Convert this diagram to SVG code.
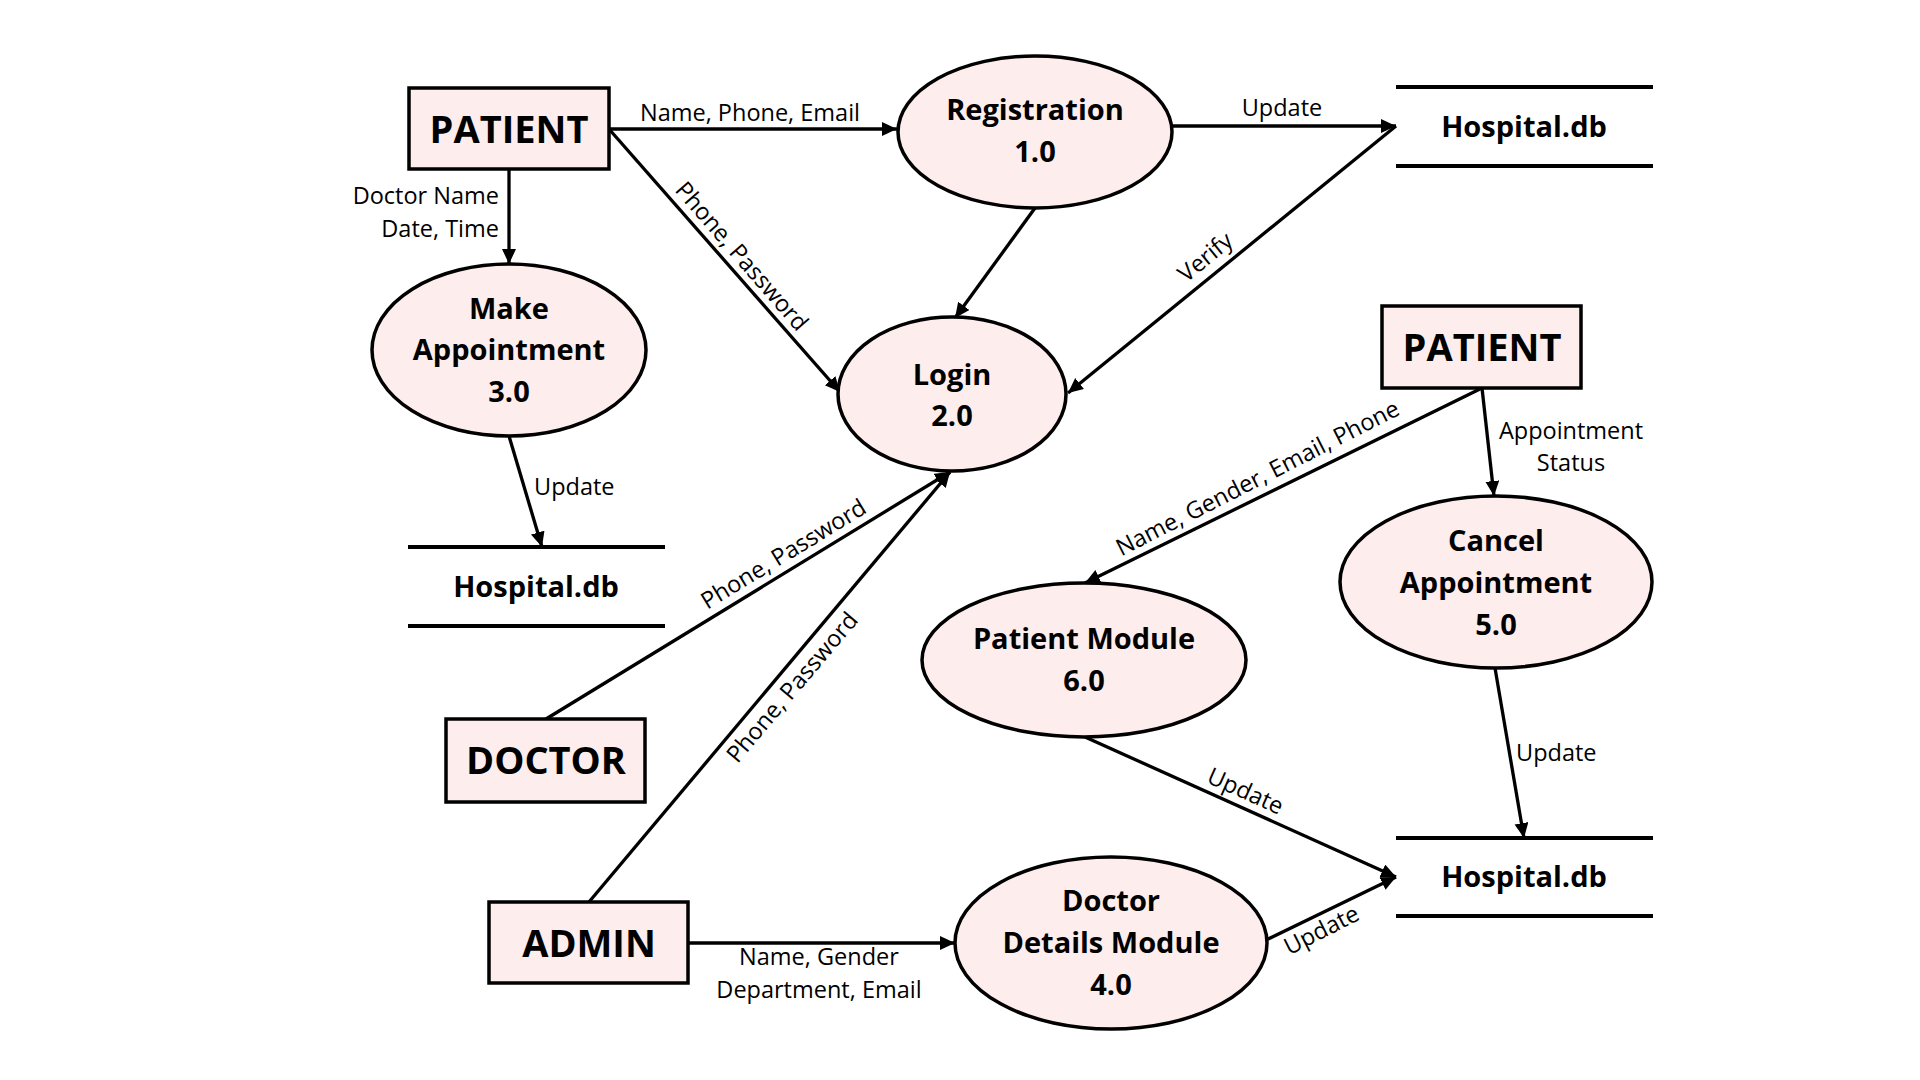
<svg xmlns="http://www.w3.org/2000/svg" width="1920" height="1080" viewBox="0 0 1920 1080">
<defs>
<marker id="arr" markerWidth="18" markerHeight="16" refX="15" refY="7" orient="auto" markerUnits="userSpaceOnUse">
<path d="M0,0 L15,7 L0,14 z" fill="#000"/>
</marker>
<style>
.node{fill:#fdeded;stroke:#000;stroke-width:3.5}
.store{stroke:#000;stroke-width:4}
.t{font-family:"Open Sans","Liberation Sans",sans-serif;font-weight:bold;font-size:29px;text-anchor:middle;fill:#000}
.tb{font-family:"Open Sans","Liberation Sans",sans-serif;font-weight:bold;font-size:38px;text-anchor:middle;fill:#000}
.lbl{font-family:"Open Sans","Liberation Sans",sans-serif;font-size:23.5px;fill:#000}
.c{text-anchor:middle}
.e{text-anchor:end}
.ln{stroke:#000;stroke-width:3.3;fill:none}
.a{marker-end:url(#arr)}
</style>
</defs>
<rect width="1920" height="1080" fill="#fff"/>

<g id="connectors">
<line class="ln a" x1="609" y1="129" x2="897" y2="129"/>
<line class="ln a" x1="609" y1="129" x2="840" y2="392"/>
<line class="ln a" x1="509" y1="169" x2="509" y2="264"/>
<line class="ln a" x1="1172" y1="126" x2="1396" y2="126"/>
<line class="ln a" x1="1396" y1="126" x2="1068" y2="393"/>
<line class="ln a" x1="1035" y1="208" x2="955" y2="318"/>
<line class="ln a" x1="509" y1="436" x2="542" y2="547"/>
<line class="ln a" x1="546" y1="719" x2="950" y2="472"/>
<line class="ln a" x1="589" y1="902" x2="950" y2="472"/>
<line class="ln a" x1="688" y1="943" x2="955" y2="943"/>
<line class="ln a" x1="1266" y1="940" x2="1396" y2="877"/>
<line class="ln a" x1="1085" y1="737" x2="1396" y2="877"/>
<line class="ln a" x1="1482" y1="388" x2="1085" y2="583"/>
<line class="ln a" x1="1482" y1="388" x2="1494" y2="496"/>
<line class="ln a" x1="1495" y1="668" x2="1524" y2="838"/>

<text class="lbl c" x="750" y="121">Name, Phone, Email</text>
<text class="lbl e" x="499" y="204">Doctor Name</text>
<text class="lbl e" x="499" y="237">Date, Time</text>
<text class="lbl c" x="1282" y="116">Update</text>
<text class="lbl" x="534" y="495">Update</text>
<text class="lbl c" x="1571" y="439">Appointment</text>
<text class="lbl c" x="1571" y="471">Status</text>
<text class="lbl" x="1516" y="761">Update</text>
<text class="lbl c" x="819" y="965">Name, Gender</text>
<text class="lbl c" x="819" y="998">Department, Email</text>
<text class="lbl c" transform="translate(741,257) rotate(49)" y="7">Phone, Password</text>
<text class="lbl c" transform="translate(1206,258) rotate(-39.3)" y="7">Verify</text>
<text class="lbl c" transform="translate(784,555) rotate(-31.3)" y="7">Phone, Password</text>
<text class="lbl c" transform="translate(793,688) rotate(-49.7)" y="7">Phone, Password</text>
<text class="lbl c" transform="translate(1258,479) rotate(-27)" y="7">Name, Gender, Email, Phone</text>
<text class="lbl c" transform="translate(1245,792) rotate(24.2)" y="7">Update</text>
<text class="lbl c" transform="translate(1322,931) rotate(-26.9)" y="7">Update</text>
</g>

<g id="patient-top">
<rect class="node" x="409" y="88" width="200" height="81"/>
<text class="tb" x="509" y="143">PATIENT</text>
</g>
<g id="registration">
<ellipse class="node" cx="1035" cy="132" rx="137" ry="76"/>
<text class="t" x="1035" y="120">Registration</text>
<text class="t" x="1035" y="162">1.0</text>
</g>
<g id="login">
<ellipse class="node" cx="952" cy="394" rx="114" ry="77"/>
<text class="t" x="952" y="385">Login</text>
<text class="t" x="952" y="426">2.0</text>
</g>
<g id="make-appointment">
<ellipse class="node" cx="509" cy="350" rx="137" ry="86"/>
<text class="t" x="509" y="319">Make</text>
<text class="t" x="509" y="360">Appointment</text>
<text class="t" x="509" y="402">3.0</text>
</g>
<g id="patient-module">
<ellipse class="node" cx="1084" cy="660" rx="162" ry="77"/>
<text class="t" x="1084" y="649">Patient Module</text>
<text class="t" x="1084" y="691">6.0</text>
</g>
<g id="cancel-appointment">
<ellipse class="node" cx="1496" cy="582" rx="156" ry="86"/>
<text class="t" x="1496" y="551">Cancel</text>
<text class="t" x="1496" y="593">Appointment</text>
<text class="t" x="1496" y="635">5.0</text>
</g>
<g id="doctor-details">
<ellipse class="node" cx="1111" cy="943" rx="156" ry="86"/>
<text class="t" x="1111" y="911">Doctor</text>
<text class="t" x="1111" y="953">Details Module</text>
<text class="t" x="1111" y="995">4.0</text>
</g>
<g id="hospital-db-top">
<line class="store" x1="1396" y1="87" x2="1653" y2="87"/>
<line class="store" x1="1396" y1="166" x2="1653" y2="166"/>
<text class="t" x="1524" y="137">Hospital.db</text>
</g>
<g id="hospital-db-left">
<line class="store" x1="408" y1="547" x2="665" y2="547"/>
<line class="store" x1="408" y1="626" x2="665" y2="626"/>
<text class="t" x="536" y="597">Hospital.db</text>
</g>
<g id="hospital-db-bottom">
<line class="store" x1="1396" y1="838" x2="1653" y2="838"/>
<line class="store" x1="1396" y1="916" x2="1653" y2="916"/>
<text class="t" x="1524" y="887">Hospital.db</text>
</g>
<g id="doctor">
<rect class="node" x="446" y="719" width="199" height="83"/>
<text class="tb" x="546" y="774">DOCTOR</text>
</g>
<g id="admin">
<rect class="node" x="489" y="902" width="199" height="81"/>
<text class="tb" x="589" y="957">ADMIN</text>
</g>
<g id="patient-right">
<rect class="node" x="1382" y="306" width="199" height="82"/>
<text class="tb" x="1482" y="361">PATIENT</text>
</g>
</svg>
